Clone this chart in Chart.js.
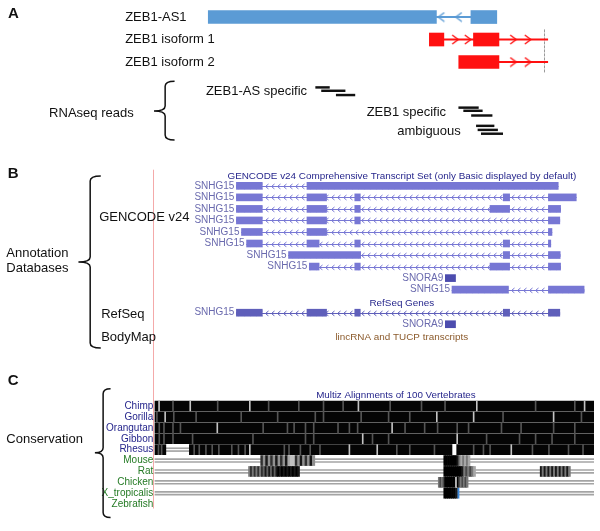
<!DOCTYPE html>
<html>
<head>
<meta charset="utf-8">
<script src="https://cdn.jsdelivr.net/npm/chart.js@4.4.1/dist/chart.umd.min.js"></script>
<style>
  html, body { margin: 0; padding: 0; background: #fff; }
  canvas { display: block; }
</style>
</head>
<body>
<canvas id="fig" width="600" height="531"></canvas>
<script>
// ========== Data: panel A (ZEB1 locus, positions in kb) ==========
const zebTracks = ['ZEB1-AS1', 'ZEB1 isoform 1', 'ZEB1 isoform 2'];
const zebExons = [
  [[51.6, 109.8], [118.6, 125.2]],
  [[108.0, 111.7], [119.25, 125.75]],
  [[115.5, 125.75]]
];
const zebIntrons = [[109.8, 118.6], [111.7, 138.2], [125.75, 138.2]];
const zebChevrons = [[111.05, 115.5], [114.6, 117.8, 129.4, 133.1], [129.4, 133.1]];

const readGroups = ['ZEB1-AS specific', 'ZEB1 specific', 'ambiguous'];
const readSpans = [
  [[79.0, 82.5], [80.5, 86.5], [84.25, 89.0]],
  [[115.5, 120.5], [116.75, 121.5], [118.75, 124.0]],
  [[120.0, 124.5], [120.4, 125.4], [121.25, 126.7]]
];
const readRows = [[3.13, 3.28, 3.47], [4.03, 4.17, 4.38], [4.84, 5.02, 5.19]];

// ========== Data: panel B (SNHG15 window, kb) ==========
const gencodeNames = ['SNHG15', 'SNHG15', 'SNHG15', 'SNHG15', 'SNHG15',
                      'SNHG15', 'SNHG15', 'SNHG15', 'SNORA9', 'SNHG15'];
const gencodeExons = [
  [[2.09, 2.75], [3.89, 10.3]],
  [[2.09, 2.75], [3.89, 4.39], [5.11, 5.25], [8.9, 9.06], [10.05, 10.76]],
  [[2.09, 2.75], [3.89, 4.39], [5.11, 5.25], [8.56, 9.06], [10.05, 10.36]],
  [[2.09, 2.75], [3.89, 4.39], [5.11, 5.25], [10.05, 10.34]],
  [[2.22, 2.75], [3.89, 4.39], [10.05, 10.14]],
  [[2.35, 2.75], [3.89, 4.2], [5.11, 5.25], [8.9, 9.06], [10.05, 10.11]],
  [[3.42, 5.26], [8.9, 9.06], [10.05, 10.35]],
  [[3.95, 4.2], [5.11, 5.25], [8.56, 9.06], [10.05, 10.36]],
  [[7.42, 7.68]],
  [[7.59, 9.03], [10.05, 10.96]]
];
const refseqNames = ['SNHG15', 'SNORA9'];
const refseqExons = [
  [[2.09, 2.75], [3.89, 4.39], [5.11, 5.25], [8.9, 9.06], [10.05, 10.34]],
  [[7.42, 7.68]]
];

// ========== Data: panel C (Multiz rows, kb) ==========
const species = ['Chimp', 'Gorilla', 'Orangutan', 'Gibbon', 'Rhesus',
                 'Mouse', 'Rat', 'Chicken', 'X_tropicalis', 'Zebrafish'];
const primateBlocks = [
  [[0.0125, 11.21]],
  [[0.0125, 11.21]],
  [[0.0125, 11.21]],
  [[0.0125, 11.21]],
  [[0.0125, 0.29], [0.89, 7.59], [7.71, 11.21]]
];
const lightStripes = [
  [0.105, 0.9, 2.42, 5.19, 8.21, 10.96],
  [0.26, 7.19, 8.13, 10.17],
  [1.59, 6.05],
  [5.3, 7.71],
  [2.42, 4.96, 5.67, 9.09]
];
const darkStripes = [
  [0.46, 1.6, 2.9, 3.67, 4.3, 4.8, 6.0, 6.8, 7.4, 9.71, 10.71],
  [0.05, 0.48, 1.05, 2.2, 3.13, 4.09, 4.3, 5.26, 5.96, 6.5, 8.88, 10.88],
  [0.11, 0.23, 0.46, 0.65, 2.76, 3.38, 3.55, 3.84, 4.05, 4.67, 4.96, 5.17, 6.38, 6.88, 7.21, 7.71, 8.0, 8.84, 9.34, 10.17, 10.71],
  [0.11, 0.23, 0.46, 0.96, 2.5, 3.84, 4.05, 5.55, 5.96, 8.46, 9.3, 9.71, 10.13, 10.71],
  [0.09, 0.17, 1.0, 1.13, 1.3, 1.46, 1.63, 1.96, 2.13, 2.3, 3.3, 3.42, 3.71, 3.96, 4.21, 6.17, 6.5, 7.13, 8.13, 8.38, 8.55, 9.63, 10.05, 10.55, 10.92]
];
// gray shade per column of each partial block, 0 = black, 9 = very light
const partialBlocks = {
  Mouse: [[2.71, 4.09, '2616261626178826162616'], [7.38, 8.05, '00000001575757']],
  Rat: [[2.4, 3.7, '5252525241414141010101010101'], [7.38, 8.19, '0000000001535357'], [9.84, 10.61, '1515151515151515']],
  Chicken: [[7.24, 8.0, '5353000000090353535']],
  X_tropicalis: [[7.38, 7.73, '0000001']]
};
const gapSpans = {
  Rhesus: [[0.29, 0.89]],
  Mouse: [[0.0125, 11.21]],
  Rat: [[0.0125, 11.21]],
  Chicken: [[0.0125, 11.21]],
  X_tropicalis: [[0.0125, 11.21]]
};
const xtropMarker = [7.74, 7.77];

// ========== Styles ==========
const FONT = "'Liberation Sans', Arial, sans-serif";
const BLUE = '#5b9bd5';
const RED = '#ff1010';
const GENCODE = '#7777d4';
const GENCODE_DARK = '#4c4cae';
const REFSEQ = '#5f5fba';
const TRACK_LABEL = '#6a6aae';
const NAVY = '#26268c';
const GREEN = '#247a24';
const REFSEQ_ROW0 = 11;

function chevronTile(color, w, h) {
  const c = document.createElement('canvas');
  c.width = w; c.height = h;
  const g = c.getContext('2d');
  g.strokeStyle = color;
  g.lineWidth = 1;
  g.beginPath(); g.moveTo(0, 3.5); g.lineTo(w, 3.5); g.stroke();
  g.beginPath(); g.moveTo(4.5, 1); g.lineTo(1.5, 3.5); g.lineTo(4.5, 6); g.stroke();
  return c;
}

function arrowImage(color, dir) {
  const c = document.createElement('canvas');
  c.width = 10; c.height = 11;
  const g = c.getContext('2d');
  g.strokeStyle = color;
  g.lineWidth = 1.4;
  g.beginPath();
  if (dir > 0) { g.moveTo(2, 1); g.lineTo(8, 5.5); g.lineTo(2, 10); }
  else { g.moveTo(8, 1); g.lineTo(2, 5.5); g.lineTo(8, 10); }
  g.stroke();
  return c;
}

function intronFill(color) {
  const tile = chevronTile(color, 6, 7);
  return (c) => {
    if (!c.raw) return color;
    const y = c.chart.scales[c.dataset.yAxisID].getPixelForValue(c.raw.y);
    const pat = c.chart.ctx.createPattern(tile, 'repeat-x');
    pat.setTransform(new DOMMatrix().translate(0, Math.round(y) - 3));
    return pat;
  };
}

function shadeColor(d) {
  const v = Math.round(Number(d) * 24);
  return 'rgb(' + v + ',' + v + ',' + v + ')';
}

// ========== Datasets (pushed bottom to top) ==========
const datasets = [];
function bars(opts, data) {
  datasets.push(Object.assign({ type: 'bar', indexAxis: 'y', grouped: false, borderWidth: 0, data }, opts));
}
function marks(opts, data) {
  datasets.push(Object.assign({ type: 'line', showLine: false, data }, opts));
}

// panel A
const A = { xAxisID: 'xa', yAxisID: 'ya' };
const zebColors = [BLUE, RED, RED];
zebTracks.forEach((name, r) => {
  bars(Object.assign({ backgroundColor: zebColors[r], barThickness: 1.4 }, A),
    [{ y: r, x: zebIntrons[r] }]);
  bars(Object.assign({ backgroundColor: zebColors[r], barThickness: 13 }, A),
    zebExons[r].map(e => ({ y: r, x: e })));
  marks(Object.assign({ pointStyle: arrowImage(zebColors[r], r === 0 ? -1 : 1), pointRadius: 5 }, A),
    zebChevrons[r].map(x => ({ x, y: r })));
});
readGroups.forEach((g, i) => {
  bars(Object.assign({ backgroundColor: '#111', barThickness: 1.8 }, A),
    readSpans[i].map((s, j) => ({ y: readRows[i][j], x: s })));
});

// panel B
const B = { xAxisID: 'xg', yAxisID: 'yb' };
function transcriptRows(names, exons, row0, color, darkColor) {
  names.forEach((name, i) => {
    const ex = exons[i];
    const r = row0 + i;
    if (ex.length > 1) {
      bars(Object.assign({ backgroundColor: intronFill(color), barThickness: 7 }, B),
        [{ y: r, x: [ex[0][0], ex[ex.length - 1][1]] }]);
    }
    bars(Object.assign({ backgroundColor: name === 'SNORA9' ? darkColor : color, barThickness: 7 }, B),
      ex.map(e => ({ y: r, x: e })));
  });
}
transcriptRows(gencodeNames, gencodeExons, 0, GENCODE, GENCODE_DARK);
transcriptRows(refseqNames, refseqExons, REFSEQ_ROW0, REFSEQ, GENCODE_DARK);

// panel C
const C = { xAxisID: 'xg', yAxisID: 'yc' };
species.forEach((sp, r) => {
  (gapSpans[sp] || []).forEach(s => {
    bars(Object.assign({ backgroundColor: '#a4a4a4', barThickness: 1 }, C),
      [{ y: r - 0.13, x: s }, { y: r + 0.13, x: s }]);
  });
});
primateBlocks.forEach((blocks, r) => {
  bars(Object.assign({ backgroundColor: '#050505', barThickness: 10 }, C),
    blocks.map(b => ({ y: r, x: b })));
  bars(Object.assign({ backgroundColor: '#555555', barThickness: 10 }, C),
    darkStripes[r].map(p => ({ y: r, x: [p, p + 0.025] })));
  bars(Object.assign({ backgroundColor: '#c4c4c4', barThickness: 10 }, C),
    lightStripes[r].map(p => ({ y: r, x: [p, p + 0.025] })));
});
Object.keys(partialBlocks).forEach(sp => {
  const r = species.indexOf(sp);
  const cells = [];
  partialBlocks[sp].forEach(([s, e, shades]) => {
    const w = (e - s) / shades.length;
    for (let i = 0; i < shades.length; i++) {
      cells.push({ y: r, x: [s + i * w, s + (i + 1) * w], shade: shades[i] });
    }
  });
  bars(Object.assign({ backgroundColor: c => c.raw ? shadeColor(c.raw.shade) : '#000', barThickness: 10 }, C), cells);
});
bars(Object.assign({ backgroundColor: '#3a86d8', barThickness: 10 }, C),
  [{ y: species.indexOf('X_tropicalis'), x: xtropMarker }]);

datasets.forEach((d, i) => { d.order = datasets.length - i; });

// ========== Texts and guides (positions in scale units) ==========
const texts = [
  { t: 'A', xs: 'xa', x: 0.5, ys: 'ya', y: -0.14, size: 15, bold: true },
  { t: 'RNAseq reads', xs: 'xa', x: 11.0, ys: 'ya', y: 4.29, size: 13 },
  { t: 'B', xs: 'xg', x: -3.74, ys: 'yb', y: -1.02, size: 15, bold: true },
  { t: 'Annotation', xs: 'xg', x: -3.78, ys: 'yb', y: 5.87, size: 13 },
  { t: 'Databases', xs: 'xg', x: -3.78, ys: 'yb', y: 7.14, size: 13 },
  { t: 'GENCODE v24', xs: 'xg', x: -1.41, ys: 'yb', y: 2.77, size: 13 },
  { t: 'RefSeq', xs: 'xg', x: -1.36, ys: 'yb', y: 11.19, size: 13 },
  { t: 'BodyMap', xs: 'xg', x: -1.36, ys: 'yb', y: 13.1, size: 13 },
  { t: 'GENCODE v24 Comprehensive Transcript Set (only Basic displayed by default)', xs: 'xg', x: 6.31, ys: 'yb', y: -0.85, size: 9.9, color: NAVY, align: 'center' },
  { t: 'RefSeq Genes', xs: 'xg', x: 6.31, ys: 'yb', y: 10.17, size: 9.9, color: NAVY, align: 'center' },
  { t: 'lincRNA and TUCP transcripts', xs: 'xg', x: 6.31, ys: 'yb', y: 13.1, size: 9.9, color: '#8b5a2b', align: 'center' },
  { t: 'C', xs: 'xg', x: -3.74, ys: 'yc', y: -2.27, size: 15, bold: true },
  { t: 'Conservation', xs: 'xg', x: -3.78, ys: 'yc', y: 3.06, size: 13 },
  { t: 'Multiz Alignments of 100 Vertebrates', xs: 'xg', x: 6.16, ys: 'yc', y: -0.98, size: 9.8, color: NAVY, align: 'center' }
];
const zebLabelX = 30.4;
const readLabelPos = [[51.0, 3.3], [92.0, 4.26], [99.8, 5.09]];
const braces = [
  { xs: 'xa', ys: 'ya', xv: 40.6, xtip: 37.75, xend: 43, top: 2.86, mid: 4.18, bot: 5.47 },
  { xs: 'xg', ys: 'yb', xv: -1.64, xtip: -1.94, xend: -1.37, top: -0.85, mid: 6.61, bot: 14.07 },
  { xs: 'xg', ys: 'yc', xv: -1.31, xtip: -1.52, xend: -1.12, top: -1.58, mid: 4.28, bot: 10.22 }
];

function drawText(ctx, t, x, y, size, color, align, bold) {
  ctx.font = (bold ? 'bold ' : '') + size + 'px ' + FONT;
  ctx.fillStyle = color || '#111';
  ctx.textAlign = align || 'left';
  ctx.textBaseline = 'middle';
  ctx.fillText(t, x, y);
}

function drawBrace(ctx, xv, xtip, xend, top, mid, bot) {
  const r = 5;
  ctx.beginPath();
  ctx.moveTo(xend, top);
  ctx.quadraticCurveTo(xv, top, xv, top + r);
  ctx.lineTo(xv, mid - r);
  ctx.quadraticCurveTo(xv, mid, xtip, mid);
  ctx.quadraticCurveTo(xv, mid, xv, mid + r);
  ctx.lineTo(xv, bot - r);
  ctx.quadraticCurveTo(xv, bot, xend, bot);
  ctx.stroke();
}

const figurePlugin = {
  id: 'figure',
  beforeDatasetsDraw(chart) {
    const ctx = chart.ctx, s = chart.scales;
    ctx.save();
    // highlight line at window start
    ctx.strokeStyle = '#f4aaaa';
    ctx.lineWidth = 1;
    const xr = Math.round(s.xg.getPixelForValue(0)) - 0.5;
    ctx.beginPath();
    ctx.moveTo(xr, s.yb.getPixelForValue(-1.4));
    ctx.lineTo(xr, s.yc.getPixelForValue(9.4));
    ctx.stroke();
    // ZEB1 TSS guide
    ctx.strokeStyle = '#9a9a9a';
    const xg = Math.round(s.xa.getPixelForValue(137.25)) + 0.5;
    ctx.setLineDash([3, 1]);
    ctx.beginPath();
    ctx.moveTo(xg, s.ya.getPixelForValue(0.55));
    ctx.lineTo(xg, s.ya.getPixelForValue(2.47));
    ctx.stroke();
    ctx.restore();
  },
  afterDatasetsDraw(chart) {
    const ctx = chart.ctx, s = chart.scales;
    ctx.save();
    texts.forEach(o => drawText(ctx, o.t, s[o.xs].getPixelForValue(o.x), s[o.ys].getPixelForValue(o.y),
      o.size, o.color, o.align, o.bold));
    zebTracks.forEach((name, r) => drawText(ctx, name, s.xa.getPixelForValue(zebLabelX), s.ya.getPixelForValue(r), 13));
    readGroups.forEach((g, i) => drawText(ctx, g, s.xa.getPixelForValue(readLabelPos[i][0]),
      s.ya.getPixelForValue(readLabelPos[i][1]), 13));
    gencodeNames.forEach((n, i) => drawText(ctx, n, s.xg.getPixelForValue(gencodeExons[i][0][0]) - 2,
      s.yb.getPixelForValue(i), 10, TRACK_LABEL, 'right'));
    refseqNames.forEach((n, i) => drawText(ctx, n, s.xg.getPixelForValue(refseqExons[i][0][0]) - 2,
      s.yb.getPixelForValue(REFSEQ_ROW0 + i), 10, TRACK_LABEL, 'right'));
    species.forEach((sp, r) => drawText(ctx, sp, s.xg.getPixelForValue(-0.03), s.yc.getPixelForValue(r),
      10, r < primateBlocks.length ? NAVY : GREEN, 'right'));
    ctx.strokeStyle = '#111';
    ctx.lineWidth = 1.5;
    braces.forEach(b => drawBrace(ctx,
      s[b.xs].getPixelForValue(b.xv), s[b.xs].getPixelForValue(b.xtip), s[b.xs].getPixelForValue(b.xend),
      s[b.ys].getPixelForValue(b.top), s[b.ys].getPixelForValue(b.mid), s[b.ys].getPixelForValue(b.bot)));
    ctx.restore();
  }
};

const hidden = { type: 'linear', display: false, offset: false, stacked: false, grid: { display: false } };
new Chart(document.getElementById('fig'), {
  type: 'bar',
  data: { datasets },
  options: {
    responsive: false,
    animation: false,
    devicePixelRatio: 1,
    layout: { padding: 0 },
    plugins: { legend: { display: false }, tooltip: { enabled: false } },
    scales: {
      xa: Object.assign({}, hidden, { axis: 'x', position: 'bottom', min: 0, max: 150 }),
      xg: Object.assign({}, hidden, { axis: 'x', position: 'bottom', min: -3.7875, max: 11.2125 }),
      ya: Object.assign({}, hidden, { axis: 'y', position: 'left', reverse: true, min: -0.4913, max: 22.596 }),
      yb: Object.assign({}, hidden, { axis: 'y', position: 'left', reverse: true, min: -15.593, max: 29.407 }),
      yc: Object.assign({}, hidden, { axis: 'y', position: 'left', reverse: true, min: -36.709, max: 10.914 })
    }
  },
  plugins: [figurePlugin]
});
</script>
</body>
</html>
